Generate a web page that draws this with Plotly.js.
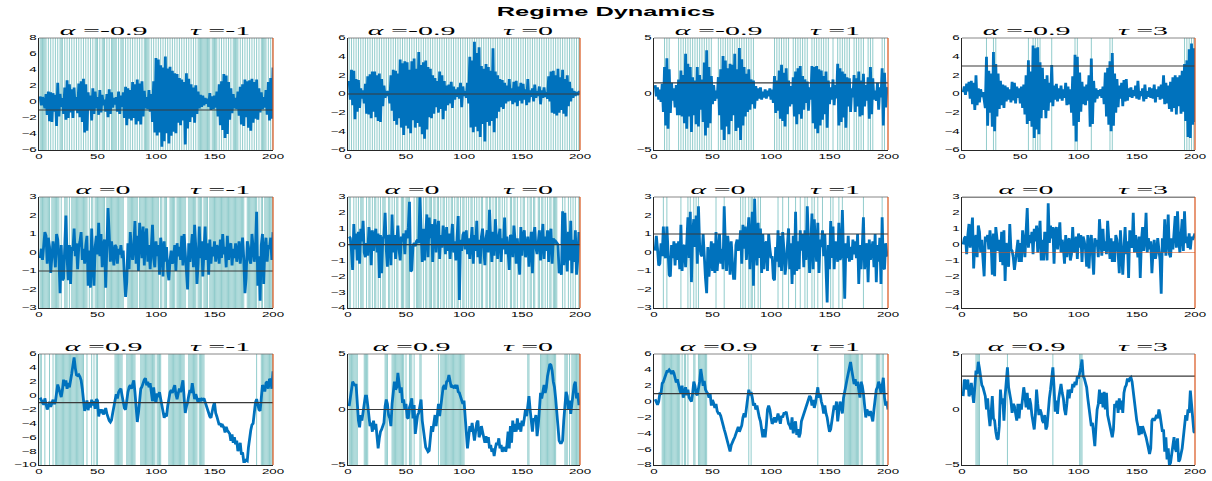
<!DOCTYPE html>
<html><head><meta charset="utf-8">
<script src="https://cdn.plot.ly/plotly-3.0.1.min.js"></script>
<style>html,body{margin:0;padding:0;background:#fff}#chart{width:1212px;height:481px}</style>
</head><body><div id="chart"></div>
<script>
// ---------------- DATA ----------------
const alphas = [-0.9, 0, 0.9];
const taus = [-1, 0, 1, 3];
const timeIndex = Array.from({length: 200}, (_, i) => i + 1);
const xTickVals = [0, 50, 100, 150, 200];
const chartTitle = 'Regime Dynamics';

const y_am09_tm1 = [
0.7,-0.4,0.6,0.1,-0.8,1.0,-1.6,1.3,-2.4,1.2,
-2.5,1.1,-1.2,0.9,-3.0,2.4,-1.8,1.0,-0.6,0.5,
-1.5,1.8,-2.2,2.7,-2.0,2.2,-1.3,1.6,-2.0,1.8,
-1.0,0.6,-1.4,2.3,-1.9,2.6,-2.5,2.9,-3.8,2.2,
-3.6,1.2,-1.0,0.8,-2.3,1.7,-1.5,1.3,-0.8,0.6,
-1.6,1.5,-1.3,0.9,-0.4,0.3,-1.2,1.0,-1.9,1.6,
-1.5,1.2,-0.7,0.5,-0.3,0.6,-1.2,1.3,-1.5,0.8,
-0.6,1.2,-2.0,1.9,-2.9,1.7,-2.1,1.5,-2.3,2.5,
-2.0,2.2,-2.8,2.8,-2.4,2.3,-2.8,2.6,-1.8,1.4,
-0.8,0.6,-0.9,1.5,-1.2,1.0,-2.5,2.6,-3.8,5.5,
-4.2,5.3,-3.8,4.6,-5.6,4.3,-4.9,5.7,-3.9,4.2,
-5.2,4.4,-4.2,3.9,-3.7,3.6,-3.9,3.5,-2.6,3.0,
-2.9,2.8,-2.3,2.5,-5.3,3.6,-3.3,2.9,-2.5,2.2,
-1.9,1.8,-2.6,2.1,-1.5,1.3,-0.8,0.9,-0.6,0.8,
-0.4,0.5,-0.2,0.4,-0.6,1.1,-1.0,0.7,-0.9,0.8,
-0.7,1.3,-1.8,2.2,-2.9,2.6,-3.5,3.5,-4.5,3.3,
-4.0,2.5,-2.2,1.7,-1.4,1.0,-0.8,0.5,-0.9,1.3,
-1.7,1.9,-2.8,2.2,-3.0,2.8,-1.9,2.6,-3.2,2.7,
-3.6,2.9,-2.6,2.5,-2.1,2.8,-2.2,1.7,-1.3,1.2,
-0.9,0.6,-0.7,1.5,-1.6,2.5,-2.3,3.0,-2.1,4.3];

const y_am09_t0 = [
1.4,-0.6,2.6,-1.2,2.5,-2.7,1.6,-1.9,1.5,-1.5,
0.6,-0.5,0.4,-1.0,1.1,-2.1,1.9,-2.2,2.1,-2.6,
2.4,-1.9,2.4,-2.5,2.0,-2.9,2.2,-3.0,1.6,-1.3,
0.9,-0.4,0.3,-0.2,0.3,-1.0,2.0,-1.8,2.6,-2.9,
2.5,-3.3,2.2,-2.6,3.7,-3.6,3.3,-4.4,3.5,-3.4,
3.4,-3.7,2.6,-4.2,3.5,-2.8,3.8,-3.6,2.7,-3.1,
4.5,-3.5,3.1,-4.3,3.4,-4.8,3.6,-3.8,2.9,-2.5,
2.7,-2.6,2.0,-2.1,1.7,-1.4,1.4,-2.0,2.4,-1.6,
2.0,-2.7,1.4,-1.8,0.9,-1.2,1.0,-1.0,1.3,-1.5,
0.8,-0.6,0.5,-0.3,0.7,-0.5,1.2,-1.4,0.8,-0.2,
0.3,-0.4,1.2,-1.0,4.0,-3.6,3.6,-4.1,5.6,-3.5,
4.4,-4.0,5.0,-4.6,3.0,-3.2,2.7,-5.1,3.2,-3.0,
2.9,-3.4,2.5,-2.9,4.9,-4.1,2.4,-2.6,2.0,-1.9,
1.6,-1.4,1.5,-1.6,1.2,-1.0,0.9,-0.8,1.6,-0.7,
0.6,-1.1,1.3,-0.9,1.4,-1.3,0.8,-0.7,1.2,-1.0,
1.1,-0.6,0.5,-1.2,1.6,-0.9,0.4,-0.3,0.6,-0.8,
1.0,-0.4,0.3,-0.2,0.8,-1.1,0.4,-0.4,0.7,-0.3,
0.2,-0.5,1.9,-0.8,2.4,-2.0,2.5,-2.1,2.0,-2.3,
2.7,-2.0,1.8,-1.7,2.6,-2.1,1.6,-2.4,2.0,-1.3,
1.3,-0.8,0.6,-0.4,0.3,-0.2,0.2,-0.1,0.2,0.2];

const y_am09_t1 = [
0.8,-0.2,0.6,-0.5,0.4,-0.7,0.9,-1.6,2.4,-2.8,
3.2,-3.1,2.2,-1.7,1.0,-0.6,0.5,-1.2,0.8,-1.9,
1.3,-1.9,2.1,-2.0,1.7,-2.6,3.6,-3.1,2.7,-2.0,
2.4,-3.4,1.5,-1.9,1.2,-2.7,2.4,-2.9,1.7,-1.4,
1.3,-2.5,2.8,-3.7,3.9,-3.0,2.4,-2.6,1.6,-0.9,
0.8,-0.6,0.3,-0.4,1.5,-1.9,2.2,-3.2,3.4,-4.1,
3.0,-2.9,2.3,-3.6,2.7,-2.4,2.6,-1.9,3.6,-3.3,
2.2,-3.0,4.1,-4.1,3.1,-2.8,2.4,-2.0,1.8,-1.6,
2.2,-1.4,1.3,-0.9,1.2,-1.3,0.7,-0.6,0.5,-0.4,
0.6,-0.5,0.2,-0.3,0.4,-0.4,0.3,-0.2,0.5,-0.5,
0.4,-0.8,1.6,-1.7,1.2,-1.5,2.1,-2.2,2.6,-2.4,
1.9,-2.9,2.3,-1.8,1.2,-1.1,0.7,-0.9,1.5,-2.0,
2.0,-2.7,2.3,-1.8,2.5,-2.2,1.6,-1.4,1.3,-0.8,
1.1,-1.5,0.6,-0.5,2.5,-2.6,2.4,-3.1,2.5,-3.5,
2.2,-2.8,2.1,-2.3,1.6,-1.8,2.0,-3.0,1.2,-0.9,
0.6,-0.5,1.3,-1.0,0.8,-0.4,2.7,-2.8,2.3,-2.5,
2.0,-2.1,1.8,-3.0,1.5,-1.1,1.4,-1.6,0.5,-0.3,
1.7,-1.6,1.4,-1.1,2.0,-2.0,1.2,-1.9,1.8,-1.1,
0.8,-0.6,1.5,-2.2,2.4,-1.8,1.4,-0.5,0.3,-0.6,
1.0,-1.4,0.6,-0.3,2.3,-2.8,1.9,-1.2,0.4,0.6];

const y_am09_t3 = [
0.2,0.8,-0.1,1.1,0.3,1.3,-0.5,1.4,-1.1,1.2,
-1.7,2.0,-1.2,0.6,-0.9,0.5,-0.3,0.2,-0.6,-1.5,
4.0,-3.4,2.5,-2.0,2.2,-3.5,4.5,-4.0,3.2,-2.4,
2.2,-1.6,1.4,-1.2,1.0,-1.5,0.9,-0.8,0.7,-0.6,
0.5,-0.9,1.3,-0.7,1.2,-1.0,0.8,-0.4,0.6,-1.0,
0.8,-1.5,1.0,-2.2,2.0,-3.2,3.6,-2.9,2.4,-3.5,
5.2,-4.7,4.9,-3.8,5.0,-4.3,3.4,-2.6,2.8,-1.7,
1.6,-2.6,2.0,-1.8,1.2,-0.9,3.1,-1.3,0.9,-0.6,
1.1,-0.8,0.6,-0.5,0.9,-0.7,0.5,-0.4,1.2,-1.2,
0.8,-1.1,0.5,-2.0,1.9,-3.4,4.2,-5.1,4.0,-3.0,
2.3,-1.9,1.3,-1.1,0.8,-1.2,1.0,-0.7,2.0,-3.5,
3.8,-3.2,1.4,-0.9,0.6,-0.5,0.4,-0.2,0.5,-0.4,
0.8,-1.1,2.3,-2.4,2.8,-3.3,3.5,-4.0,4.4,-3.4,
2.2,-2.0,1.6,-1.4,0.9,-0.5,1.2,-1.3,1.5,-0.8,
1.6,-0.7,0.6,-0.3,0.7,-0.4,0.4,-0.2,0.9,-0.5,
1.4,-0.6,0.3,-0.2,0.6,-0.8,1.0,-0.5,0.3,-0.3,
0.7,-0.4,0.6,-0.5,1.0,-0.9,0.5,-0.3,0.8,-0.6,
1.0,-0.5,2.0,-1.1,1.2,-1.0,0.9,-1.6,1.3,-1.9,
1.8,-1.5,2.0,-2.2,1.8,-1.3,2.0,-2.1,2.5,-1.9,
3.2,-2.9,3.6,-4.6,4.8,-4.7,5.4,-3.3,4.9,-3.0];

const y_a0_tm1 = [
-0.3,0.2,-0.4,0.5,1.1,0.9,-0.6,0.8,0.3,-1.1,
-0.4,0.6,0.1,-0.8,1.0,0.7,-0.3,-2.2,0.4,-1.5,
-1.4,0.2,2.0,-0.3,-1.5,0.4,-1.7,0.3,0.1,1.3,
-0.2,0.5,-0.9,0.3,0.6,1.1,-0.4,0.2,-0.6,0.4,
0.9,-1.8,0.1,-1.9,1.3,-0.6,-1.8,0.3,0.9,-0.1,
1.6,-0.2,1.0,-0.8,0.4,0.7,-1.9,0.3,2.4,1.0,
-0.5,0.6,0.1,-0.7,0.4,0.3,-0.6,0.2,-0.1,0.4,
-0.3,0.1,-1.3,-2.4,-1.6,0.5,-0.9,1.1,0.2,-0.4,
0.3,1.7,-0.6,0.9,-1.0,1.6,0.7,-0.3,1.4,-0.7,
0.8,1.3,-0.5,0.4,-0.9,0.5,1.5,-0.3,-0.8,0.6,
-0.2,0.4,-1.2,0.8,0.2,-1.3,0.6,-0.5,0.3,-1.0,
-1.5,-0.4,0.1,-0.6,-0.3,0.4,-1.0,0.5,-0.2,0.3,
-0.4,0.9,-0.7,1.0,0.1,-1.0,-2.0,0.5,-0.5,0.2,
1.0,-0.8,1.5,0.3,-1.7,-0.6,1.4,-0.3,0.6,-1.3,
0.2,1.4,-0.4,0.5,-1.2,0.7,-0.6,0.3,-0.2,0.6,
-0.5,0.4,0.2,-0.6,0.7,-0.3,1.0,-0.1,0.3,-0.8,
0.9,-0.4,0.3,0.5,-0.7,0.2,-0.3,0.5,-0.5,0.2,
0.6,-0.6,0.4,0.8,-0.3,-2.2,-1.4,0.6,0.3,-0.4,
-0.6,1.0,0.3,-0.5,0.2,2.2,-1.8,-0.2,-2.6,0.4,
1.0,-1.7,0.2,0.8,-0.5,0.4,0.2,0.8,-0.4,1.1];

const y_a0_t0 = [
0.5,0.4,-0.4,-1.6,1.3,-0.3,0.7,-1.0,0.8,-1.2,
1.0,0.2,1.5,-0.5,-0.8,0.1,-0.7,1.1,0.6,-1.3,
0.9,-0.4,0.5,1.0,-0.5,0.7,-2.1,0.6,-1.8,0.4,
0.5,2.0,-0.3,-1.4,0.6,0.4,-1.3,1.9,-0.5,0.6,
-0.9,0.3,1.2,-0.3,-1.0,0.5,0.2,0.7,-0.6,0.9,
0.4,1.1,2.7,-1.7,-1.6,-0.1,0.1,-0.1,0.2,0.3,
0.1,3.0,0.5,-1.1,1.0,-1.0,0.7,1.9,-0.8,1.7,
0.4,1.3,-1.1,0.9,1.6,-0.5,0.8,1.5,-0.9,0.6,
-0.2,1.2,0.5,-0.6,1.1,-0.4,0.7,-0.9,0.3,1.3,
-0.5,0.2,-1.0,0.5,1.8,-3.5,0.3,-0.4,0.6,0.8,
-0.3,0.9,-0.6,0.4,-0.9,0.2,1.1,-1.2,0.6,-0.4,
1.5,-0.8,0.3,-1.2,0.5,1.0,-0.6,-1.3,0.4,0.9,
-0.5,2.2,0.3,-1.1,0.8,-0.7,1.6,0.2,-0.9,0.5,
1.0,-1.1,0.4,-0.3,1.7,-0.6,0.5,-0.4,-1.6,0.6,
0.5,-0.8,1.2,0.3,-1.2,0.4,-0.5,-1.9,1.1,-0.7,
0.6,0.9,-0.8,-0.3,0.5,-1.4,0.2,0.8,-1.8,0.6,
1.1,-0.2,-0.6,0.4,0.9,-1.0,0.3,1.3,-0.9,0.5,
-0.4,0.9,-1.1,0.6,1.0,-1.2,0.4,0.1,0.2,0.1,
0.0,-1.8,-1.6,-1.9,2.1,-1.3,2.0,-0.5,-1.7,0.8,
-1.0,1.5,-1.8,0.3,-1.1,0.9,-1.9,-1.0,0.7,0.7];

const y_a0_t1 = [
0.1,0.9,0.2,-0.7,-0.6,0.5,-0.2,1.4,-0.1,-0.3,
1.4,0.3,-1.2,-1.3,0.4,-0.3,0.6,-0.7,0.5,-0.4,
0.6,-0.9,1.5,-1.0,0.3,0.4,-0.8,0.5,1.9,-0.3,
2.2,-1.6,1.0,1.8,0.3,2.0,-0.6,2.5,0.4,-0.1,
-0.2,1.0,-0.6,-1.4,-2.2,0.3,-1.3,-0.4,0.6,-1.0,
0.5,-1.1,1.1,-1.0,0.3,1.0,-0.6,0.2,-0.9,2.5,
0.4,-1.0,0.9,0.2,-1.2,0.6,-0.5,-1.4,-1.4,0.4,
0.7,0.1,0.3,1.2,-0.6,1.5,0.2,1.4,-0.4,0.6,
1.9,-0.9,1.1,2.2,-1.8,2.9,0.4,-0.7,1.6,-0.3,
1.3,-1.1,1.0,-0.9,0.4,0.6,-1.0,1.0,0.2,-0.3,
-0.2,-1.4,-1.5,0.3,-0.5,1.2,-0.8,0.9,-1.0,1.1,
0.2,-1.2,-0.6,0.4,1.3,-0.9,0.5,-1.7,0.9,-1.2,
2.2,-1.0,0.6,-0.9,1.2,0.1,1.0,-0.8,1.2,-0.4,
2.5,0.6,-1.1,0.4,2.1,-0.9,1.8,0.3,-0.5,1.6,
-1.1,0.7,0.3,1.2,-0.2,1.0,-0.6,-2.7,0.4,-0.9,
1.7,-0.3,1.4,-0.9,0.6,0.2,-0.5,1.6,-0.4,-0.2,
2.3,-0.8,-2.5,0.5,-0.3,0.9,-0.5,0.3,-0.4,0.7,
-0.1,0.6,-0.3,1.0,-1.7,0.4,-0.9,0.3,1.9,-0.9,
-0.2,0.5,-1.6,0.7,-0.4,0.3,0.6,-0.8,1.0,-1.6,
0.4,-0.5,0.8,-1.7,1.9,-0.8,-0.9,0.5,-0.1,-0.2];

const y_a0_t3 = [
0.0,0.4,0.5,-0.6,0.6,1.3,-0.2,0.9,1.7,-1.5,
0.2,0.6,-0.8,1.2,0.8,-0.5,0.3,-0.9,-2.0,0.5,
0.2,0.6,-0.3,0.9,0.1,-1.9,0.7,-2.0,1.1,0.4,
-0.4,0.3,-1.1,0.8,-1.3,0.9,-2.3,0.1,-0.6,-1.4,
1.3,-0.3,-0.4,-0.8,-1.6,-0.9,-0.4,0.3,-1.1,0.1,
-1.1,0.9,0.2,-0.8,0.8,2.3,-0.2,0.6,0.1,0.8,
-0.6,1.0,0.2,1.2,-0.5,0.4,1.5,-1.0,0.3,-1.0,
0.8,0.3,-1.0,2.6,0.1,1.2,0.4,1.1,-1.2,0.9,
1.1,-0.3,0.5,1.4,-0.5,0.3,-0.2,-1.2,0.6,-0.8,
0.2,0.4,-1.0,-0.6,1.1,-0.5,-0.3,0.5,-0.9,0.7,
-0.2,0.6,-1.1,0.5,0.2,-0.3,-1.4,0.6,-1.5,0.1,
0.6,-0.6,-1.9,0.4,-0.1,0.3,-0.8,1.6,0.2,-0.7,
1.0,-0.4,0.2,-0.6,1.5,0.5,-0.9,0.4,-1.1,0.2,
-1.1,0.6,0.3,-0.5,-1.8,0.9,-0.4,-1.9,-0.3,1.1,
-0.6,0.2,-2.1,0.9,0.3,-0.2,2.0,-0.5,0.6,-0.4,
-0.8,0.5,-2.1,0.2,1.1,-0.4,0.3,2.0,-0.5,0.4,
-0.3,0.2,-1.8,-0.4,0.3,-0.9,-0.5,0.4,-0.2,-1.0,
-3.1,0.4,-0.5,1.6,-0.7,0.2,1.9,-0.6,-0.8,0.4,
-0.3,0.7,1.8,-0.2,2.1,0.3,-0.5,0.6,1.6,-0.4,
2.1,0.1,0.5,-0.2,0.7,-0.3,0.5,0.3,0.6,0.7];

const y_a09_tm1 = [
-0.3,-0.8,-1.0,-1.3,-0.4,-1.2,-2.0,-1.5,-0.9,-1.6,
-1.0,-0.6,-1.2,-0.9,0.4,1.6,1.0,0.5,-0.2,0.8,
2.3,1.4,2.2,1.0,1.8,1.2,2.6,3.2,4.4,5.5,
4.0,3.0,2.9,3.0,2.7,2.2,1.0,-0.5,-2.2,-1.4,
-0.7,-2.1,-1.0,-1.7,-0.6,-1.4,-0.8,-1.9,-0.5,-0.7,
-3.0,-2.0,-2.5,-2.0,-2.7,-2.4,-1.8,-2.6,-3.2,-3.6,
-3.8,-3.5,-2.5,-1.5,-0.6,0.2,-0.4,0.5,0.8,1.0,
0.0,-1.0,-1.8,-2.0,-0.5,0.5,1.2,1.5,1.0,1.6,
2.2,0.5,-2.0,-3.8,-2.5,-1.0,1.0,1.3,2.0,2.3,
2.5,1.5,2.0,1.2,1.8,0.6,-0.8,1.2,-0.5,-1.0,
0.3,-0.2,0.5,-0.5,-1.5,-2.8,-3.2,-2.8,-3.0,-1.5,
-0.5,0.5,0.8,0.4,1.0,1.5,0.2,-0.5,0.3,1.0,
0.5,1.5,2.2,-0.2,-2.5,-1.6,-1.0,0.0,0.8,0.4,
1.8,0.6,-0.5,0.2,-0.3,-1.0,-0.4,-0.8,-0.5,-0.6,
-0.4,-1.0,-1.5,-2.0,-2.6,-3.0,-3.2,-2.0,-1.5,-1.0,
-2.5,-3.0,-3.8,-4.2,-4.0,-4.5,-4.3,-4.6,-5.3,-4.5,
-5.0,-5.2,-5.5,-6.5,-5.6,-6.8,-6.0,-7.0,-6.5,-8.0,
-7.5,-6.8,-8.5,-8.2,-9.5,-9.5,-9.3,-9.4,-7.5,-6.0,
-5.0,-4.2,-4.0,-2.5,-1.0,-0.5,-1.2,-2.0,-2.2,0.5,
1.5,1.2,0.6,1.8,2.0,1.0,2.4,2.2,1.0,3.5];

const y_a09_t0 = [
0.3,1.0,1.8,2.5,2.3,2.2,2.2,0.5,-1.0,-1.6,
-0.5,-1.0,0.0,0.5,1.2,1.2,0.4,-0.5,-1.5,-1.2,
-2.0,-1.0,-1.8,-1.3,-2.5,-3.5,-2.6,-2.0,-1.8,-1.5,
-1.2,0.3,0.9,0.5,-0.5,-0.8,-1.5,0.5,1.5,2.5,
1.8,2.0,3.3,2.5,1.5,2.0,0.6,0.9,0.0,0.5,
-0.7,-0.8,0.2,0.5,1.0,-0.8,0.4,-2.2,-1.4,-0.5,
-0.3,0.4,0.9,-1.0,-2.0,-3.0,-3.4,-3.6,-3.8,-3.7,
-2.5,-1.5,-2.0,-1.0,-0.5,-1.5,-0.3,0.5,-0.6,0.5,
1.2,2.0,2.2,1.8,2.5,2.6,3.1,2.5,2.0,2.1,
2.0,2.1,1.9,2.2,1.6,1.5,1.2,1.0,0.5,0.8,
-1.0,-2.8,-3.5,-2.5,-1.5,-2.0,-1.2,-2.0,-2.8,-2.0,
-1.2,-1.0,-2.5,-2.2,-1.5,-2.0,-2.5,-3.0,-2.4,-3.0,
-2.5,-3.5,-3.2,-3.8,-3.5,-4.2,-3.5,-3.0,-3.2,-2.6,
-3.5,-3.2,-3.8,-3.6,-3.4,-3.8,-3.2,-2.0,-3.5,-1.5,
-3.0,-1.0,-2.0,-1.3,-2.0,-0.8,-1.8,-1.2,-2.0,-1.0,
-1.5,-0.8,0.0,-0.6,0.2,1.2,0.0,-1.0,-2.0,-0.8,
-1.0,-0.5,-2.4,-1.5,0.0,1.5,1.0,1.8,2.2,1.5,
2.0,3.0,3.8,4.1,4.0,3.5,2.5,2.0,1.0,0.0,
-1.5,-2.8,-3.0,-3.0,-2.8,-1.0,0.5,1.6,1.2,0.0,
0.8,-0.4,0.5,1.5,2.2,2.5,1.0,1.5,0.5,0.5];

const y_a09_t1 = [
0.3,-0.2,-0.4,0.0,1.0,1.0,2.3,2.5,3.0,3.5,
3.8,3.8,4.0,3.8,3.5,3.9,3.6,3.0,2.4,2.8,
2.0,1.5,1.0,2.0,0.5,1.2,1.8,0.8,1.5,0.5,
0.2,0.0,1.0,2.5,2.0,1.0,0.8,1.5,2.5,4.1,
3.0,2.0,2.6,1.5,1.2,1.0,0.5,1.0,-0.5,0.2,
-0.2,-0.8,-0.3,-1.2,-1.5,-1.5,-1.8,-2.5,-3.0,-3.5,
-4.0,-4.5,-5.0,-5.5,-6.3,-5.5,-5.0,-4.8,-4.5,-4.0,
-3.5,-3.2,-3.8,-3.5,-3.0,-2.0,-1.5,-2.0,-1.0,0.0,
1.5,0.8,1.2,0.5,-0.5,-0.2,-1.0,-0.5,-1.5,-2.0,
-2.5,-3.5,-4.5,-3.5,-4.5,-3.0,-1.0,-0.5,-1.0,-2.0,
-2.8,-2.5,-2.0,-2.6,-2.2,-1.5,-2.0,-2.8,-1.8,-2.0,
-1.5,-1.5,-1.3,-2.0,-2.8,-3.0,-3.5,-2.0,-4.0,-3.0,
-2.5,-4.2,-3.5,-4.5,-4.0,-2.5,-2.0,-1.5,-1.0,-0.5,
0.0,0.5,0.7,0.5,-0.5,0.2,-0.8,-0.2,0.8,1.8,
0.5,1.0,0.0,-0.5,-1.5,-0.5,-1.5,-2.0,-3.0,-3.8,
-3.5,-2.5,-1.5,-0.5,-1.0,0.0,-2.5,-1.0,0.0,-0.5,
-1.5,0.5,1.5,2.0,2.8,3.5,4.5,5.0,4.0,3.0,
2.2,2.8,2.0,2.5,1.5,0.5,2.5,2.0,1.0,-0.5,
-2.0,-1.0,-1.5,-1.8,-1.2,-2.0,-2.5,-1.0,0.5,1.5,
1.8,2.5,2.0,1.0,2.0,3.0,0.5,-0.5,0.0,-1.0];

const y_a09_t3 = [
1.2,2.7,2.5,1.8,2.7,1.2,1.5,2.4,1.5,0.6,
2.0,3.5,3.2,4.3,3.7,2.8,2.2,2.0,1.5,1.2,
0.0,1.0,-0.5,-1.5,-0.3,1.2,-0.8,-1.0,-2.0,-2.6,
-2.7,-1.5,1.8,0.5,1.0,-1.0,1.2,2.2,3.8,2.0,
1.5,0.8,-0.3,0.5,0.3,-0.5,-1.0,0.5,-0.8,0.5,
0.0,1.0,2.0,1.2,0.2,1.5,0.0,1.0,0.5,-0.5,
-1.0,-1.8,-0.5,1.8,0.5,-0.5,0.0,-0.3,-1.0,-1.2,
-0.5,-1.8,-1.5,0.0,1.0,1.8,3.0,3.8,2.0,-0.2,
0.8,-0.4,1.0,1.5,2.3,1.5,1.0,0.0,-0.5,0.5,
1.8,1.0,1.8,1.5,2.3,2.0,2.5,2.2,3.0,2.8,
3.2,3.8,4.5,3.0,2.8,2.5,2.0,1.0,0.0,-1.0,
-1.5,-1.2,-2.0,-3.3,-1.5,0.0,0.5,1.8,0.5,1.5,
0.2,1.6,0.0,1.5,-0.5,-1.0,-1.5,-2.0,-2.5,-1.8,
0.5,0.2,0.8,-0.3,1.0,0.0,0.8,-0.3,1.5,2.0,
2.2,2.8,2.5,2.8,2.9,2.5,1.5,0.5,-0.5,-1.0,
-1.5,-2.3,-1.5,-2.2,-1.5,-1.8,-2.0,-2.5,-3.0,-3.5,
-4.0,-3.5,-1.0,-0.8,-1.0,-0.8,-0.5,-0.8,0.0,-0.5,
-1.2,-2.0,-1.8,-3.8,-2.5,-4.5,-3.5,-5.0,-4.8,-4.0,
-3.0,-2.5,-3.5,-3.8,-2.6,-4.7,-4.5,-4.0,-3.5,-2.5,
-1.5,-0.5,-1.0,0.0,-0.3,1.7,0.5,-1.0,-2.0,-2.1];

const seriesGrid = [
  [y_am09_tm1, y_am09_t0, y_am09_t1, y_am09_t3],
  [y_a0_tm1,   y_a0_t0,   y_a0_t1,   y_a0_t3],
  [y_a09_tm1,  y_a09_t0,  y_a09_t1,  y_a09_t3]
];

// ---------------- LAYOUT CONFIG ----------------
const W = 1212, H = 481;
const colPx = [[39, 273], [348, 580], [654, 888], [962, 1195]];
const rowPx = [[38, 150], [197, 308], [354, 465]];
const yRanges = [
  [[-6, 8], [-6, 6], [-5, 5], [-6, 6]],
  [[-3, 3], [-4, 3], [-3, 3], [-4, 3]],
  [[-10, 6], [-5, 5], [-8, 6], [-5, 5]]
];
const yDticks = [[2, 2, 5, 2], [1, 1, 1, 1], [2, 5, 2, 5]];

const blue = '#0072BD';
const regimeColor = 'rgba(100,182,182,0.7)';
const orange = '#D95319';

const data = [];
const shapes = [];
const annotations = [];
const layout = {
  width: W, height: H,
  margin: {l: 0, r: 0, t: 0, b: 0},
  paper_bgcolor: '#fff', plot_bgcolor: '#fff',
  showlegend: false,
  title: {
    text: '<b>' + chartTitle + '</b>',
    font: {family: 'Liberation Sans, Arial, sans-serif', size: 13, color: '#000'},
    x: 0.5, xanchor: 'center', xref: 'paper',
    y: 1 - 11 / H, yanchor: 'middle', yref: 'container'
  }
};

function fmt(v) { return (v < 0 ? '-' : '') + String(Math.abs(v)); }

for (let r = 0; r < 3; r++) {
  for (let c = 0; c < 4; c++) {
    const k = r * 4 + c + 1;
    const xs = k === 1 ? 'x' : 'x' + k;
    const ys = k === 1 ? 'y' : 'y' + k;
    const xa = k === 1 ? 'xaxis' : 'xaxis' + k;
    const ya = k === 1 ? 'yaxis' : 'yaxis' + k;
    const yv = seriesGrid[r][c];
    const tau = taus[c];
    const yr = yRanges[r][c];

    const rx = [], ry = [];
    yv.forEach((v, i) => {
      if (v > tau) { rx.push(timeIndex[i], timeIndex[i], null); ry.push(yr[0], yr[1], null); }
    });
    data.push({type: 'scatter', mode: 'lines', x: rx, y: ry, xaxis: xs, yaxis: ys,
      line: {color: regimeColor, width: 1}, hoverinfo: 'skip'});
    data.push({type: 'scatter', mode: 'lines', x: timeIndex, y: yv, xaxis: xs, yaxis: ys,
      line: {color: blue, width: 2.8}, hoverinfo: 'skip'});

    const tickFont = {family: 'Liberation Sans, Arial, sans-serif', size: 7, color: '#000'};
    layout[xa] = {
      domain: [colPx[c][0] / W, colPx[c][1] / W],
      range: [0, 200], tickvals: xTickVals, ticktext: xTickVals.map(String),
      showline: true, linecolor: '#262626', linewidth: 1,
      ticks: '', showgrid: false, zeroline: false, anchor: ys,
      tickfont: tickFont
    };
    layout[ya] = {
      domain: [1 - rowPx[r][1] / H, 1 - rowPx[r][0] / H],
      range: yr, dtick: yDticks[r][c], tick0: 0,
      showline: true, linecolor: '#262626', linewidth: 1,
      ticks: '', showgrid: false, zeroline: false, anchor: xs,
      tickfont: tickFont
    };

    shapes.push({type: 'line', xref: xs, yref: ys, x0: 0, x1: 200, y0: tau, y1: tau,
      line: {color: '#3a3a3a', width: 1.2}, layer: 'above'});
    shapes.push({type: 'line', xref: xs + ' domain', yref: ys + ' domain', x0: 0, x1: 1, y0: 1, y1: 1,
      line: {color: '#6a6a6a', width: 0.8}, layer: 'above'});
    shapes.push({type: 'line', xref: xs + ' domain', yref: ys + ' domain', x0: 1, x1: 1, y0: 0, y1: 1,
      line: {color: orange, width: 1.2}, layer: 'above'});
    if (r === 1 && c === 3) {
      shapes.push({type: 'line', xref: xs, yref: ys, x0: 0, x1: 200, y0: -0.5, y1: -0.5,
        line: {color: 'rgba(217,83,25,0.55)', width: 1}, layer: 'above'});
    }

    const tf = {family: 'Liberation Serif, Times New Roman, serif', size: 12, color: '#000'};
    annotations.push({xref: xs + ' domain', yref: ys + ' domain', x: 0.275, y: 1, yanchor: 'bottom', yshift: -2,
      xanchor: 'center', showarrow: false, text: '<i>α</i> =' + fmt(alphas[r]), font: tf});
    annotations.push({xref: xs + ' domain', yref: ys + ' domain', x: 0.775, y: 1, yanchor: 'bottom', yshift: -2,
      xanchor: 'center', showarrow: false, text: '<i>τ</i> =' + fmt(tau), font: tf});
  }
}
layout.shapes = shapes;
layout.annotations = annotations;

Plotly.newPlot('chart', data, layout, {staticPlot: true}).then(gd => {
  const stretch = (sel, f) => gd.querySelectorAll(sel).forEach(el => {
    const L = el.getComputedTextLength();
    if (L > 0) {
      el.setAttribute('textLength', (L * f).toFixed(1));
      el.setAttribute('lengthAdjust', 'spacingAndGlyphs');
    }
  });
  stretch('.xaxislayer-above text', 1.9);
  stretch('.yaxislayer-above text', 1.9);
  stretch('.annotation-text', 2.5);
  stretch('.gtitle', 1.95);
});
</script>
</body></html>
